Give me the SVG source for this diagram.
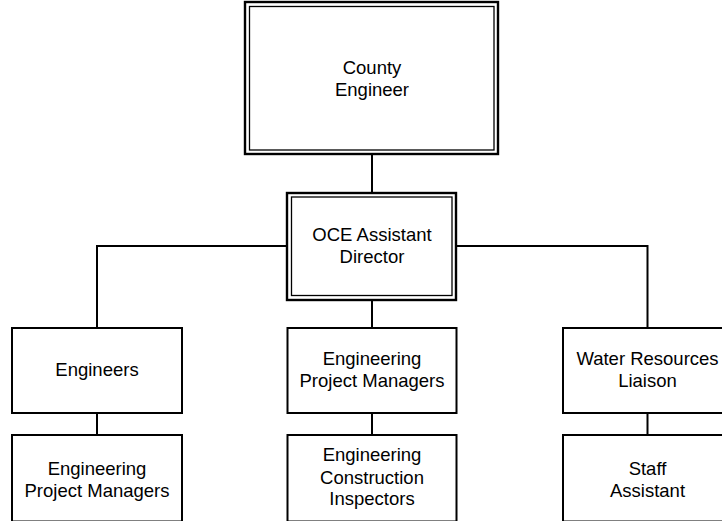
<svg xmlns="http://www.w3.org/2000/svg" width="722" height="521" viewBox="0 0 722 521">
  <style>
    .box { fill: #ffffff; stroke: #000000; stroke-width: 2; }
    .outer { fill: #ffffff; stroke: #000000; stroke-width: 2.4; }
    .inner { fill: none; stroke: #000000; stroke-width: 1.3; }
    .conn { fill: none; stroke: #000000; stroke-width: 2; }
    text { font-family: "Liberation Sans", Arial, sans-serif; font-size: 18.5px; fill: #000000; text-anchor: middle; }
  </style>
  <rect x="0" y="0" width="722" height="521" fill="#ffffff"/>

  <g id="connectors">
    <line class="conn" x1="372" y1="155" x2="372" y2="193"/>
    <polyline class="conn" points="97,328 97,246 287,246"/>
    <polyline class="conn" points="456,246 647.5,246 647.5,328"/>
    <line class="conn" x1="372" y1="300" x2="372" y2="328"/>
    <line class="conn" x1="97" y1="413" x2="97" y2="435"/>
    <line class="conn" x1="372" y1="413" x2="372" y2="435"/>
    <line class="conn" x1="647.5" y1="413" x2="647.5" y2="435"/>
  </g>

  <g id="county-engineer">
    <rect class="outer" x="245" y="2" width="253" height="152"/>
    <rect class="inner" x="249.5" y="6.5" width="244.5" height="143.5"/>
    <text x="372" y="74">County</text>
    <text x="372" y="96">Engineer</text>
  </g>

  <g id="oce-assistant-director">
    <rect class="outer" x="287" y="193" width="169" height="107"/>
    <rect class="inner" x="291.5" y="197" width="160.5" height="98.5"/>
    <text x="372" y="241">OCE Assistant</text>
    <text x="372" y="263">Director</text>
  </g>

  <g id="engineers">
    <rect class="box" x="12" y="328" width="170" height="85"/>
    <text x="97" y="376">Engineers</text>
  </g>

  <g id="engineering-project-managers-left">
    <rect class="box" x="12" y="435" width="170" height="86.5"/>
    <text x="97" y="475">Engineering</text>
    <text x="97" y="497">Project Managers</text>
  </g>

  <g id="engineering-project-managers-center">
    <rect class="box" x="287.5" y="328" width="169" height="85"/>
    <text x="372" y="365">Engineering</text>
    <text x="372" y="387">Project Managers</text>
  </g>

  <g id="engineering-construction-inspectors">
    <rect class="box" x="287.5" y="435" width="169" height="86.5"/>
    <text x="372" y="461">Engineering</text>
    <text x="372" y="484">Construction</text>
    <text x="372" y="505">Inspectors</text>
  </g>

  <g id="water-resources-liaison">
    <rect class="box" x="563" y="328" width="169" height="85"/>
    <text x="647.5" y="365">Water Resources</text>
    <text x="647.5" y="387">Liaison</text>
  </g>

  <g id="staff-assistant">
    <rect class="box" x="563" y="435" width="169" height="86.5"/>
    <text x="647.5" y="475">Staff</text>
    <text x="647.5" y="497">Assistant</text>
  </g>
</svg>
